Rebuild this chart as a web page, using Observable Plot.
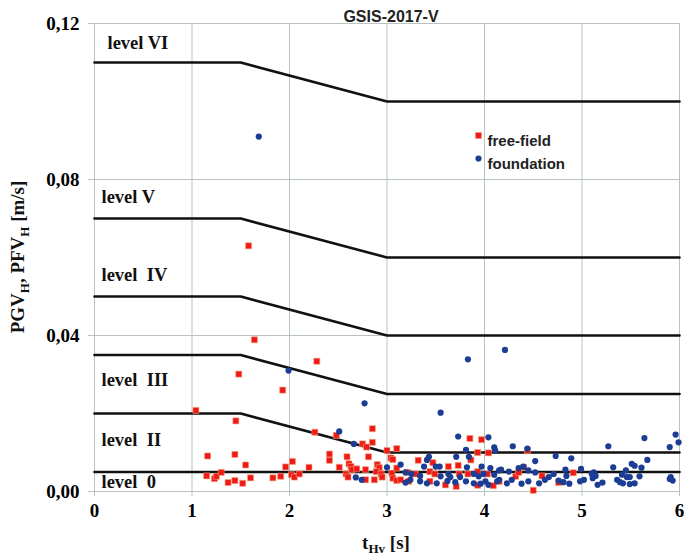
<!DOCTYPE html>
<html>
<head>
<meta charset="utf-8">
<script src="https://cdn.jsdelivr.net/npm/d3@7"></script>
<script src="https://cdn.jsdelivr.net/npm/@observablehq/plot@0.6"></script>
<style>
  html, body { margin: 0; padding: 0; background: #fff; }
  svg text { white-space: pre; }
</style>
</head>
<body>
<div id="chart"></div>
<script>
const chartTitle = "GSIS-2017-V";
const xTicks = [0, 1, 2, 3, 4, 5, 6];
const yTicks = [0, 0.04, 0.08, 0.12];

// level boundaries: plateau value up to t=1.5 s, falling to tail value at t=3 s
const levelNames = ["level  0", "level  II", "level  III", "level  IV", "level V", "level VI"];
const levelPlateau = [0.005, 0.02, 0.035, 0.05, 0.07, 0.11];
const levelTail = [0.005, 0.01, 0.025, 0.04, 0.06, 0.10];
const levelBreaks = [0, 1.5, 3, 6];
const levelLabelY = [0.0024, 0.0131, 0.0285, 0.0554, 0.0754, 0.1149];

const freeField = [
  [1.58,0.063],[1.64,0.0389],[1.48,0.0301],[2.28,0.0334],[1.93,0.026],[1.04,0.0208],[1.45,0.0181],
  [1.16,0.0091],[1.44,0.0095],[1.55,0.0068],[1.96,0.0063],[2.03,0.0077],[1.15,0.004],[1.23,0.0033],
  [1.25,0.0039],[1.30,0.0049],[1.37,0.0023],[1.44,0.0028],[1.52,0.0021],[1.60,0.0035],[1.83,0.0035],
  [1.91,0.0039],[2.02,0.0043],[2.26,0.0152],[2.48,0.0144],[2.85,0.0161],[2.85,0.0126],[2.75,0.0122],
  [2.79,0.0114],[3.00,0.0105],[3.10,0.011],[3.04,0.0086],[3.06,0.0082],[2.41,0.0096],[2.41,0.008],
  [2.59,0.0089],[2.61,0.0071],[2.63,0.0064],[2.81,0.0089],[2.51,0.0062],[2.20,0.0062],[2.05,0.0037],
  [2.10,0.0045],[2.58,0.0045],[2.60,0.0037],[2.64,0.0056],[2.69,0.0058],[2.78,0.0056],[2.90,0.0069],
  [2.92,0.0061],[2.89,0.0051],[2.94,0.0045],[2.95,0.0037],[2.87,0.003],[2.78,0.003],[3.05,0.0047],
  [3.06,0.0034],[3.10,0.0028],[3.14,0.003],[3.10,0.006],[3.85,0.0136],[3.97,0.0133],[3.93,0.01],
  [4.04,0.0099],[3.32,0.008],[3.47,0.0074],[3.86,0.0081],[3.63,0.0064],[3.73,0.0067],[3.21,0.0049],
  [3.29,0.0045],[3.44,0.0051],[3.49,0.0045],[3.74,0.0045],[3.83,0.0045],[3.93,0.0051],[4.03,0.0045],
  [3.22,0.0026],[3.44,0.0026],[3.60,0.0017],[3.71,0.0013],[3.93,0.0016],[4.09,0.0015],[4.44,0.0105],
  [4.40,0.0062],[4.59,0.004],[4.32,0.0039],[4.15,0.0026],[4.50,0.0003],[4.76,0.0023],[4.91,0.0048],
  [4.35,0.0049]
];

const foundation = [
  [1.685,0.091],[1.99,0.031],[3.83,0.0339],[4.21,0.0363],[2.77,0.0226],[2.51,0.0154],[2.66,0.0122],
  [3.00,0.0062],[3.14,0.0069],[2.68,0.0036],[2.74,0.003],[3.19,0.0049],[3.19,0.0023],[3.55,0.0202],
  [3.73,0.0141],[4.04,0.0139],[3.81,0.0107],[4.10,0.0113],[4.11,0.0105],[3.84,0.0089],[3.71,0.0089],
  [3.43,0.0089],[3.41,0.0081],[3.38,0.0064],[3.50,0.0064],[3.54,0.0064],[3.82,0.0062],[3.97,0.0064],
  [4.06,0.006],[4.15,0.0054],[3.25,0.0045],[3.34,0.004],[3.55,0.0039],[3.63,0.0045],[3.65,0.0037],
  [3.75,0.0037],[3.89,0.0045],[3.94,0.0039],[3.99,0.0045],[4.10,0.0043],[3.24,0.003],[3.34,0.0026],
  [3.41,0.0021],[3.51,0.0021],[3.62,0.0027],[3.70,0.0024],[3.81,0.0026],[3.89,0.0021],[3.96,0.002],
  [4.01,0.0026],[4.04,0.0017],[4.13,0.0026],[4.29,0.0116],[4.44,0.011],[4.52,0.0078],[4.73,0.0091],
  [4.89,0.0085],[4.99,0.0058],[4.17,0.0056],[4.25,0.0051],[4.35,0.006],[4.40,0.0064],[4.45,0.0054],
  [4.52,0.0049],[4.66,0.0037],[4.71,0.0045],[4.83,0.0056],[4.84,0.004],[4.15,0.003],[4.23,0.0021],
  [4.28,0.003],[4.38,0.002],[4.45,0.0026],[4.56,0.0021],[4.62,0.003],[4.76,0.0028],[4.81,0.0024],
  [4.87,0.002],[4.98,0.0026],[5.02,0.003],[5.27,0.0116],[5.64,0.0137],[5.90,0.0114],[5.96,0.0146],
  [5.99,0.0126],[5.32,0.0062],[5.45,0.0054],[5.51,0.0071],[5.54,0.0066],[5.61,0.0061],[5.67,0.0081],
  [5.10,0.0045],[5.12,0.0049],[5.14,0.004],[5.11,0.0034],[5.16,0.0017],[5.21,0.0023],[5.36,0.003],
  [5.39,0.0024],[5.41,0.0043],[5.42,0.0021],[5.46,0.0037],[5.49,0.0037],[5.49,0.0019],[5.54,0.0021],
  [5.59,0.0039],[5.90,0.0032],[5.93,0.0028],[5.91,0.0037]
];

const legendNames = ["free-field", "foundation"];

// build level polylines
const levelLines = [];
levelNames.forEach((name, i) => {
  const ys = [levelPlateau[i], levelPlateau[i], levelTail[i], levelTail[i]];
  levelBreaks.forEach((t, j) => levelLines.push({level: name, x: t, y: ys[j]}));
});
const levelLabels = levelNames.map((name, i) => ({name, y: levelLabelY[i]}));
const topLabel = levelLabels.filter(d => d.name === "level VI");
const otherLabels = levelLabels.filter(d => d.name !== "level VI");

const serif = "'Liberation Serif', 'Times New Roman', serif";
const sans = "'Liberation Sans', Arial, sans-serif";
const gridColor = "#b9c3c3";
const red = "#ee1a1a";
const blue = "#1b3d93";
const labelStyle = {fontFamily: serif, fontSize: 18.5, fontWeight: "bold", fill: "#111", textAnchor: "start"};

const svg = Plot.plot({
  width: 685,
  height: 558,
  marginLeft: 94,
  marginRight: 6,
  marginTop: 23,
  marginBottom: 67,
  style: {background: "#fff"},
  x: {domain: [0, 6]},
  y: {domain: [0, 0.12]},
  marks: [
    Plot.gridX(xTicks, {stroke: gridColor, strokeOpacity: 1, strokeWidth: 1}),
    Plot.gridY(yTicks, {stroke: gridColor, strokeOpacity: 1, strokeWidth: 1}),
    Plot.axisX({ticks: xTicks, tickSize: 5, tickPadding: 7, stroke: gridColor, fill: "black",
      tickFormat: d => String(d), fontFamily: serif, fontSize: 19, fontWeight: "bold", label: null}),
    Plot.axisY({ticks: yTicks, tickSize: 6, tickPadding: 9, stroke: gridColor, fill: "black",
      tickFormat: d => d.toFixed(2).replace(".", ","), fontFamily: serif, fontSize: 19, fontWeight: "bold", label: null}),
    Plot.line(levelLines, {x: "x", y: "y", z: "level", stroke: "#111", strokeWidth: 2.6}),
    Plot.text(otherLabels, {x: d => 0, y: "y", text: "name", dx: 7, ...labelStyle}),
    Plot.text(topLabel, {x: d => 0, y: "y", text: "name", dx: 13, ...labelStyle}),
    Plot.dot(freeField, {x: d => d[0], y: d => d[1], symbol: "square", r: 3.4, fill: red,
      stroke: "#f3a070", strokeWidth: 0.6}),
    Plot.dot(foundation, {x: d => d[0], y: d => d[1], symbol: "circle", r: 3.1, fill: blue}),
    // legend
    Plot.dot([legendNames[0]], {frameAnchor: "top-left", dx: 384, dy: 112, symbol: "square", r: 3.4, fill: red,
      stroke: "#f3a070", strokeWidth: 0.6}),
    Plot.dot([legendNames[1]], {frameAnchor: "top-left", dx: 384, dy: 135, symbol: "circle", r: 3.1, fill: blue}),
    Plot.text([legendNames[0]], {frameAnchor: "top-left", dx: 393, dy: 112, text: d => d, textAnchor: "start",
      fontFamily: sans, fontSize: 15, fontWeight: "bold", fill: "#222"}),
    Plot.text([legendNames[1]], {frameAnchor: "top-left", dx: 393, dy: 135, text: d => d, textAnchor: "start",
      fontFamily: sans, fontSize: 15, fontWeight: "bold", fill: "#222"}),
    // title
    Plot.text([chartTitle], {frameAnchor: "top", dx: 4, dy: -13, text: d => d,
      fontFamily: "'Liberation Sans Narrow', 'Liberation Sans', Arial, sans-serif", fontSize: 16, fontWeight: "bold", fill: "#222"})
  ]
});

// axis titles with subscripts
const s = d3.select(svg);
const yl = s.append("text")
  .attr("transform", "translate(24,257) rotate(-90)")
  .attr("text-anchor", "middle")
  .attr("font-family", serif).attr("font-size", 19).attr("font-weight", "bold").attr("fill", "#111");
yl.append("tspan").text("PGV");
yl.append("tspan").attr("dy", 5).attr("font-size", 13).text("H");
yl.append("tspan").attr("dy", -5).text(", PFV");
yl.append("tspan").attr("dy", 5).attr("font-size", 13).text("H");
yl.append("tspan").attr("dy", -5).text(" [m/s]");

const xl = s.append("text")
  .attr("x", 386).attr("y", 549)
  .attr("text-anchor", "middle")
  .attr("font-family", serif).attr("font-size", 19).attr("font-weight", "bold").attr("fill", "#111");
xl.append("tspan").text("t");
xl.append("tspan").attr("dy", 4).attr("font-size", 13).text("Hv");
xl.append("tspan").attr("dy", -4).text(" [s]");

document.getElementById("chart").appendChild(svg);
</script>
</body>
</html>
